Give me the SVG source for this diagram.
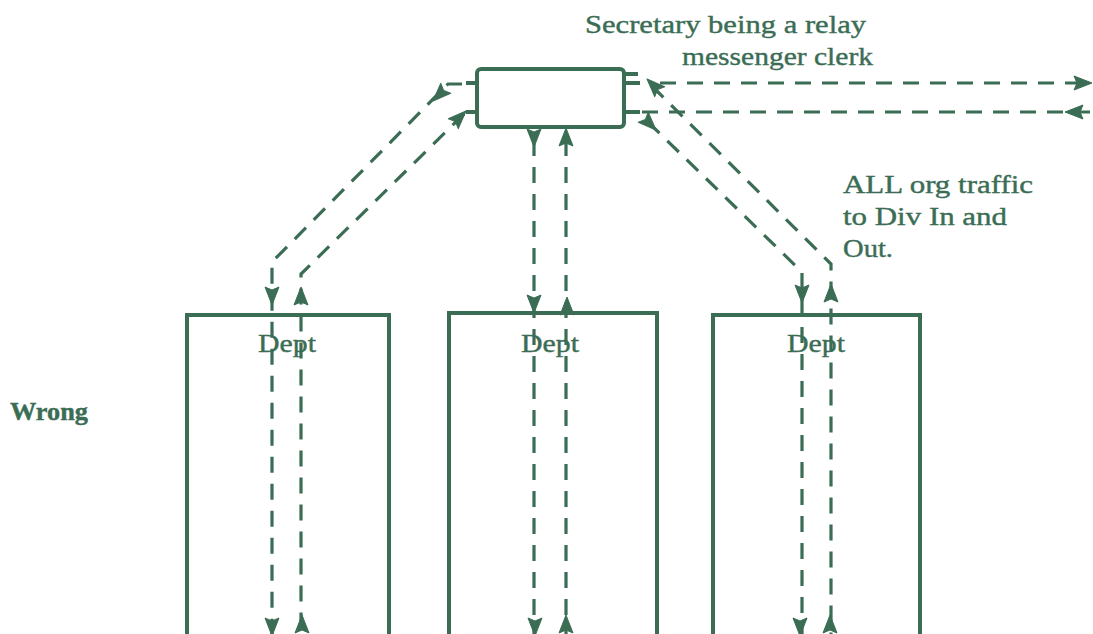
<svg xmlns="http://www.w3.org/2000/svg" xmlns:xlink="http://www.w3.org/1999/xlink" width="1093" height="634" viewBox="0 0 1093 634">
<style>
.t{font-family:"Liberation Serif","Times New Roman",serif;fill:#3b6d55;stroke:#3b6d55;stroke-width:0.4}
.solid{fill:none;stroke:#3b6d55;stroke-width:4}
.dash{fill:none;stroke:#3b6d55;stroke-width:3.2;stroke-dasharray:16 11}
.ah{fill:#3b6d55;stroke:#3b6d55;stroke-width:1;stroke-linejoin:round}
</style>
<defs>
<path id="ah" d="M0,0 L-7,-18 L0,-15 L7,-18 Z"/>
</defs>
<rect width="1093" height="634" fill="#ffffff"/>
<g id="secretary">
<rect x="477" y="69" width="147" height="58" rx="4" class="solid"/>
<path class="solid" d="M466,83 H477 M466,112 H477 M624,74 H638 M624,83 H640 M624,112 H640"/>
</g>
<g id="dept1">
<path class="solid" d="M187,634 V315 H389 V634"/>
<text class="t" x="287" y="352" font-size="26" text-anchor="middle" textLength="58" lengthAdjust="spacingAndGlyphs">Dept</text>
</g>
<g id="dept2">
<path class="solid" d="M449,634 V313 H657 V634"/>
<text class="t" x="550" y="352" font-size="26" text-anchor="middle" textLength="58" lengthAdjust="spacingAndGlyphs">Dept</text>
</g>
<g id="dept3">
<path class="solid" d="M713,634 V315 H920 V634"/>
<text class="t" x="816" y="352" font-size="26" text-anchor="middle" textLength="58" lengthAdjust="spacingAndGlyphs">Dept</text>
</g>
<g id="labels">
<text class="t" x="10" y="420" font-size="26" font-weight="bold" textLength="78" lengthAdjust="spacingAndGlyphs">Wrong</text>
<text class="t" x="585" y="33" font-size="26" textLength="281" lengthAdjust="spacingAndGlyphs">Secretary being a relay</text>
<text class="t" x="682" y="65" font-size="26" textLength="191" lengthAdjust="spacingAndGlyphs">messenger clerk</text>
<text class="t" x="843" y="193" font-size="26" textLength="190" lengthAdjust="spacingAndGlyphs">ALL org traffic</text>
<text class="t" x="843" y="225" font-size="26" textLength="164" lengthAdjust="spacingAndGlyphs">to Div In and</text>
<text class="t" x="843" y="257" font-size="26" textLength="50" lengthAdjust="spacingAndGlyphs">Out.</text>
</g>
<g id="connectors">
<path class="dash" d="M462,84 H448 L272,262 V634"/>
<path class="dash" d="M464,114 L301,274 V634"/>
<path class="dash" d="M534,140 V634"/>
<path class="dash" d="M566,140 V634"/>
<path class="dash" d="M652,86 L831,264 V634"/>
<path class="dash" d="M648,122 L802,272 V634"/>
<path class="dash" d="M660,83 H1080"/>
<path class="dash" d="M642,112 H1093"/>
<g class="ah">
<use xlink:href="#ah" transform="translate(433,101) rotate(45)"/>
<use xlink:href="#ah" transform="translate(466,111) rotate(225)"/>
<use xlink:href="#ah" transform="translate(534,147)"/>
<use xlink:href="#ah" transform="translate(566,128) rotate(180)"/>
<use xlink:href="#ah" transform="translate(647,79) rotate(135)"/>
<use xlink:href="#ah" transform="translate(656,130) rotate(-45)"/>
<use xlink:href="#ah" transform="translate(1092,83) rotate(-90)"/>
<use xlink:href="#ah" transform="translate(1065,112) rotate(90)"/>
<use xlink:href="#ah" transform="translate(272,305)"/>
<use xlink:href="#ah" transform="translate(301,287) rotate(180)"/>
<use xlink:href="#ah" transform="translate(534,313)"/>
<use xlink:href="#ah" transform="translate(567,297) rotate(180)"/>
<use xlink:href="#ah" transform="translate(802,303)"/>
<use xlink:href="#ah" transform="translate(831,284) rotate(180)"/>
<use xlink:href="#ah" transform="translate(272,636)"/>
<use xlink:href="#ah" transform="translate(302,615) rotate(180)"/>
<use xlink:href="#ah" transform="translate(535,636)"/>
<use xlink:href="#ah" transform="translate(566,615) rotate(180)"/>
<use xlink:href="#ah" transform="translate(800,636)"/>
<use xlink:href="#ah" transform="translate(830,615) rotate(180)"/>
</g>
</g>
</svg>
